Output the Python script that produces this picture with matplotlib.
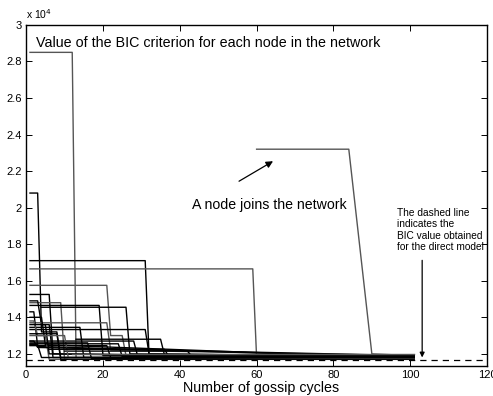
import numpy as np
import matplotlib
matplotlib.use("Agg")
import matplotlib.pyplot as plt

plt.rcParams["font.family"] = ["Liberation Sans", "DejaVu Sans"]

# BIC value (x 1e4) of each node against gossip cycle, read at the break points
node_cycles = [
    [1, 12, 13, 101],
    [1, 3, 4, 8, 9, 101],
    [1, 31, 32, 101],
    [1, 59, 60, 101],
    [60, 84, 90, 101],
    [1, 21, 22, 25, 26, 101],
    [1, 6, 7, 101],
    [1, 9, 10, 101],
    [1, 19, 20, 101],
    [4, 26, 27, 101],
    [1, 3, 4, 6, 7, 101],
    [1, 21, 22, 101],
    [1, 31, 32, 101],
    [1, 14, 15, 101],
    [13, 35, 36, 101],
    [1, 28, 29, 101],
    [1, 21, 22, 101],
    [10, 42, 43, 101],
    [1, 2, 3, 101],
    [1, 4, 5, 101],
    [1, 2, 3, 5, 6, 101],
    [1, 5, 6, 101],
    [1, 8, 9, 101],
    [1, 10, 11, 101],
    [1, 16, 17, 101],
    [1, 24, 25, 101],
    [1, 2, 3, 101],
    [6, 36, 37, 101],
    [1, 3, 4, 101],
    [12, 101],
]
node_bic = [
    [2.85, 2.85, 1.175, 1.175],
    [2.08, 2.08, 1.32, 1.32, 1.18, 1.18],
    [1.71, 1.71, 1.19, 1.185],
    [1.665, 1.665, 1.18, 1.18],
    [2.32, 2.32, 1.20, 1.19],
    [1.575, 1.575, 1.30, 1.30, 1.19, 1.19],
    [1.525, 1.525, 1.20, 1.18],
    [1.48, 1.48, 1.17, 1.17],
    [1.465, 1.465, 1.19, 1.185],
    [1.455, 1.455, 1.20, 1.185],
    [1.49, 1.49, 1.36, 1.36, 1.18, 1.18],
    [1.37, 1.37, 1.22, 1.19],
    [1.333, 1.333, 1.20, 1.185],
    [1.345, 1.345, 1.18, 1.175],
    [1.28, 1.28, 1.195, 1.19],
    [1.27, 1.27, 1.19, 1.18],
    [1.245, 1.245, 1.18, 1.18],
    [1.215, 1.215, 1.19, 1.185],
    [1.43, 1.43, 1.24, 1.18],
    [1.40, 1.40, 1.25, 1.175],
    [1.38, 1.38, 1.30, 1.30, 1.17, 1.17],
    [1.36, 1.36, 1.20, 1.175],
    [1.31, 1.31, 1.17, 1.17],
    [1.30, 1.30, 1.175, 1.175],
    [1.26, 1.26, 1.175, 1.18],
    [1.255, 1.255, 1.185, 1.18],
    [1.27, 1.27, 1.235, 1.19],
    [1.225, 1.225, 1.19, 1.185],
    [1.25, 1.25, 1.18, 1.18],
    [1.20, 1.20],
]
node_gray = [1, 0, 0, 1, 1, 1, 0, 1, 0, 0, 0, 1, 0, 0, 0,
             0, 0, 0, 0, 0, 1, 0, 0, 1, 0, 0, 0, 0, 0, 1]

direct_bic = 1.165  # BIC of the direct model (x 1e4)

fig = plt.figure(figsize=(4.93, 3.96), dpi=100)
ax = fig.add_axes([0.053, 0.076, 0.935, 0.861])

for cyc, bic, g in zip(node_cycles, node_bic, node_gray):
    col = "#555555" if g else "black"
    ax.plot(cyc, np.array(bic) * 1e4, color=col, lw=1.0)

ax.plot([0, 120], [direct_bic * 1e4, direct_bic * 1e4], "k--", lw=0.9,
        dashes=(5, 4), zorder=0)

ax.set_xlim(0, 120)
ax.set_ylim(1.134e4, 3e4)
ax.set_xticks(np.arange(0, 121, 20))
ax.set_yticks(np.arange(1.2e4, 3.01e4, 0.2e4))
ax.set_yticklabels(["1.2", "1.4", "1.6", "1.8", "2", "2.2", "2.4", "2.6", "2.8", "3"])
ax.tick_params(direction="in", top=True, right=True, length=4, width=0.7,
               labelsize=8, pad=3)
for s in ax.spines.values():
    s.set_linewidth(1.0)

ax.text(0, 1.012, r"x 10$^4$", transform=ax.transAxes, fontsize=7.5,
        ha="left", va="bottom")

ax.text(2.6, 2.90e4, "Value of the BIC criterion for each node in the network",
        fontsize=10.3, va="center", ha="left")
ax.set_xlabel("Number of gossip cycles", fontsize=10.3)
ax.xaxis.set_label_coords(0.51, -0.045)

ax.annotate("", xy=(64.9, 2.262e4), xytext=(54.8, 2.137e4),
            arrowprops=dict(arrowstyle="-|>", color="black", lw=0.9,
                            mutation_scale=10))
ax.text(43.1, 2.016e4, "A node joins the network", fontsize=10.2,
        va="center", ha="left")

ax.text(96.6, 2.00e4,
        "The dashed line\nindicates the\nBIC value obtained\nfor the direct model",
        fontsize=7.3, va="top", ha="left", linespacing=1.2)
ax.annotate("", xy=(103.1, 1.165e4), xytext=(103.1, 1.727e4),
            arrowprops=dict(arrowstyle="-|>", color="black", lw=0.9,
                            mutation_scale=7))

fig.savefig("out.png", dpi=100)
